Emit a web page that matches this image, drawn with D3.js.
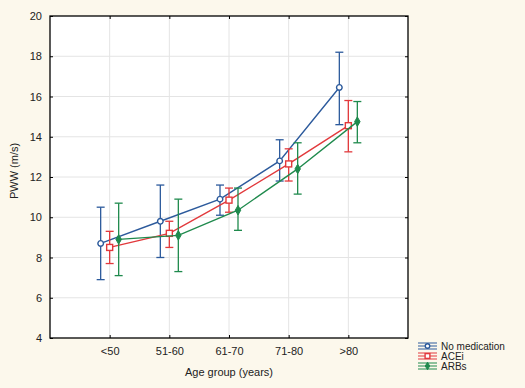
<!DOCTYPE html>
<html>
<head>
<meta charset="utf-8">
<script src="https://cdn.jsdelivr.net/npm/d3@7"></script>
<style>
  body { margin: 0; background: #fcf8ec; }
  svg { display: block; font-family: "Liberation Sans", Arial, sans-serif; }
</style>
</head>
<body>
<svg class="main"></svg>
<script>
// data
const ageGroups = ["<50", "51-60", "61-70", "71-80", ">80"];
const seriesNames = ["No medication", "ACEi", "ARBs"];
const noMedMean = [8.7, 9.8, 10.9, 12.8, 16.45];
const noMedLow  = [6.9, 8.0, 10.1, 11.8, 14.6];
const noMedHigh = [10.5, 11.6, 11.6, 13.85, 18.2];
const aceiMean = [8.5, 9.2, 10.85, 12.65, 14.55];
const aceiLow  = [7.7, 8.5, 10.25, 11.8, 13.25];
const aceiHigh = [9.3, 9.8, 11.45, 13.4, 15.8];
const arbMean = [8.9, 9.1, 10.35, 12.4, 14.75];
const arbLow  = [7.1, 7.3, 9.35, 11.15, 13.7];
const arbHigh = [10.7, 10.9, 11.45, 13.7, 15.75];
const yTicks = [4, 6, 8, 10, 12, 14, 16, 18, 20];

const width = 525, height = 388;
const pLeft = 50, pRight = 408, pTop = 16, pBottom = 338;

const svg = d3.select("svg.main")
    .attr("width", width)
    .attr("height", height);

svg.append("rect")
    .attr("width", width).attr("height", height)
    .style("fill", "#fcf8ec");

const x = d3.scalePoint().domain(ageGroups).range([pLeft, pRight]).padding(1);
const y = d3.scaleLinear().domain([4, 20]).range([pBottom, pTop]);
const offset = d3.scalePoint().domain(seriesNames).range([-9, 9]);
const color = d3.scaleOrdinal().domain(seriesNames).range(["#2c5a9c", "#e2393c", "#1f8a4d"]);

const series = [
    {name: "No medication", mean: noMedMean, low: noMedLow, high: noMedHigh, shape: "circle"},
    {name: "ACEi", mean: aceiMean, low: aceiLow, high: aceiHigh, shape: "square"},
    {name: "ARBs", mean: arbMean, low: arbLow, high: arbHigh, shape: "diamond"}
];

// plot background
svg.append("rect")
    .attr("x", pLeft).attr("y", pTop)
    .attr("width", pRight - pLeft).attr("height", pBottom - pTop)
    .style("fill", "white");

// grid
svg.append("g").selectAll("line")
    .data(yTicks.slice(1, -1))
    .join("line")
    .attr("x1", pLeft).attr("x2", pRight)
    .attr("y1", d => y(d)).attr("y2", d => y(d))
    .style("stroke", "#e4e4e4").style("stroke-width", 1);
svg.append("g").selectAll("line")
    .data(ageGroups)
    .join("line")
    .attr("x1", d => x(d)).attr("x2", d => x(d))
    .attr("y1", pTop).attr("y2", pBottom)
    .style("stroke", "#e4e4e4").style("stroke-width", 1);

// axes with inward ticks
const axisStyle = g => {
    g.select(".domain").remove();
    g.selectAll(".tick line").style("stroke", "black");
    g.selectAll("text").style("font-size", "11px").style("fill", "#222");
};
svg.append("g").attr("transform", `translate(${pLeft},0)`)
    .call(d3.axisLeft(y).tickValues(yTicks).tickSizeInner(-3).tickPadding(8))
    .call(axisStyle);
svg.append("g").attr("transform", `translate(${pRight},0)`)
    .call(d3.axisRight(y).tickValues(yTicks).tickSizeInner(-3).tickFormat(""))
    .call(axisStyle);
svg.append("g").attr("transform", `translate(0,${pBottom})`)
    .call(d3.axisBottom(x).tickSizeInner(-3).tickPadding(9))
    .call(axisStyle);
svg.append("g").attr("transform", `translate(0,${pTop})`)
    .call(d3.axisTop(x).tickSizeInner(-3).tickFormat(""))
    .call(axisStyle);

svg.append("rect")
    .attr("x", pLeft).attr("y", pTop)
    .attr("width", pRight - pLeft).attr("height", pBottom - pTop)
    .style("fill", "none").style("stroke", "black").style("stroke-width", 1.3);

// axis titles
svg.append("text")
    .attr("x", (pLeft + pRight) / 2).attr("y", 376)
    .attr("text-anchor", "middle")
    .style("font-size", "11px").style("fill", "#222")
    .text("Age group (years)");
svg.append("text")
    .attr("transform", "translate(18,171) rotate(-90)")
    .attr("text-anchor", "middle")
    .style("font-size", "11px").style("fill", "#222")
    .text("PWW (m/s)");

const drawMarker = (g, shape, c, k = 1) => {
    if (shape === "circle") {
        g.append("circle").attr("r", 2.8 * k)
            .style("fill", "white").style("stroke", c).style("stroke-width", 1.4);
    } else if (shape === "square") {
        g.append("rect").attr("x", -3 * k).attr("y", -3 * k).attr("width", 6 * k).attr("height", 6 * k)
            .style("fill", "white").style("stroke", c).style("stroke-width", 1.4);
    } else {
        g.append("path").attr("d", d3.symbol(d3.symbolDiamond, 26 * k * k)())
            .style("fill", c).style("stroke", c).style("stroke-width", 1);
    }
};

const line = d3.line();
series.forEach(s => {
    const c = color(s.name);
    const dx = offset(s.name);
    const g = svg.append("g");
    g.append("path")
        .attr("d", line(ageGroups.map((a, i) => [x(a) + dx, y(s.mean[i])])))
        .style("fill", "none").style("stroke", c).style("stroke-width", 1.4);
    ageGroups.forEach((a, i) => {
        const cx = x(a) + dx;
        g.append("line")
            .attr("x1", cx).attr("x2", cx)
            .attr("y1", y(s.low[i])).attr("y2", y(s.high[i]))
            .style("stroke", c).style("stroke-width", 1.3);
        [s.low[i], s.high[i]].forEach(v => {
            g.append("line")
                .attr("x1", cx - 4).attr("x2", cx + 4)
                .attr("y1", y(v)).attr("y2", y(v))
                .style("stroke", c).style("stroke-width", 1.3);
        });
        drawMarker(g.append("g").attr("transform", `translate(${cx},${y(s.mean[i])})`), s.shape, c);
    });
});

// legend
const legend = svg.append("g").attr("transform", "translate(418,346)");
series.forEach((s, i) => {
    const c = color(s.name);
    const row = legend.append("g").attr("transform", `translate(0,${i * 10})`);
    [-3, 0, 3].forEach(dy => {
        row.append("line").attr("x1", 0).attr("x2", 19).attr("y1", dy).attr("y2", dy)
            .style("stroke", c).style("stroke-width", 1);
    });
    row.append("line").attr("x1", 9.5).attr("x2", 9.5).attr("y1", -3).attr("y2", 3)
        .style("stroke", c).style("stroke-width", 1);
    drawMarker(row.append("g").attr("transform", "translate(9.5,0)"), s.shape, c, 0.8);
    row.append("text").attr("x", 23).attr("y", 3.5)
        .style("font-size", "10px").style("fill", "#222")
        .text(s.name);
});
</script>
</body>
</html>
